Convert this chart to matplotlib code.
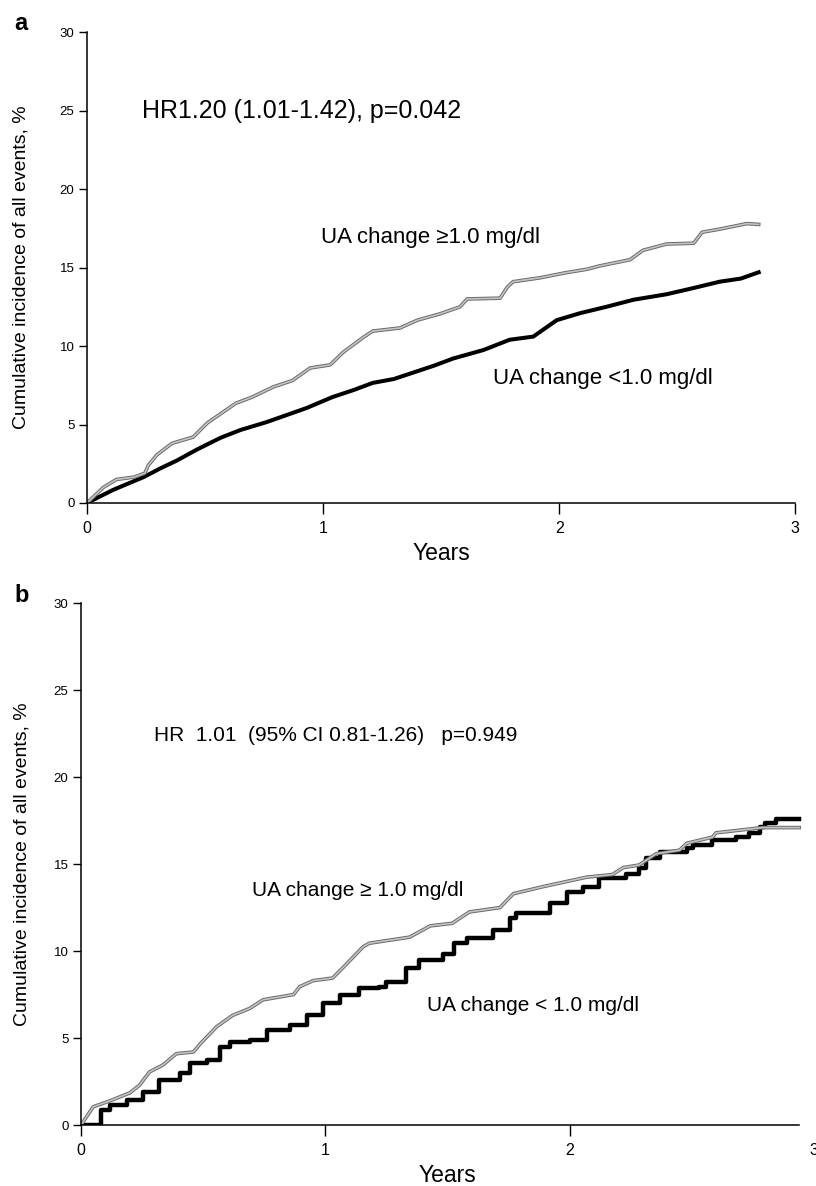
import matplotlib
matplotlib.use('Agg')
import matplotlib.pyplot as plt
import matplotlib.patheffects as pe

plt.rcParams['font.family'] = ['Liberation Sans', 'DejaVu Sans']

# panel a: cumulative incidence (%) vs years
a_hi_t = [0, 0.07, 0.125, 0.2, 0.245, 0.26, 0.295, 0.36, 0.45, 0.51, 0.63, 0.70, 0.79, 0.87,
          0.945, 1.03, 1.085, 1.17, 1.21, 1.325, 1.40, 1.495, 1.58, 1.61, 1.75, 1.78, 1.805,
          1.92, 2.02, 2.12, 2.17, 2.30, 2.355, 2.455, 2.57, 2.605, 2.68, 2.795, 2.845]
a_hi_v = [0, 1.0, 1.5, 1.65, 1.9, 2.4, 3.05, 3.8, 4.2, 5.1, 6.35, 6.75, 7.4, 7.8,
          8.6, 8.8, 9.6, 10.55, 10.95, 11.15, 11.65, 12.05, 12.5, 13.0, 13.05, 13.75, 14.1,
          14.35, 14.65, 14.9, 15.1, 15.5, 16.1, 16.5, 16.55, 17.25, 17.45, 17.8, 17.75]
a_lo_t = [0, 0.11, 0.24, 0.31, 0.38, 0.465, 0.565, 0.65, 0.76, 0.845, 0.93, 1.04, 1.13, 1.21,
          1.30, 1.38, 1.47, 1.55, 1.68, 1.79, 1.89, 1.99, 2.09, 2.20, 2.315, 2.455, 2.57,
          2.68, 2.77, 2.845]
a_lo_v = [0, 0.83, 1.65, 2.2, 2.7, 3.4, 4.15, 4.65, 5.15, 5.6, 6.05, 6.75, 7.2, 7.65,
          7.9, 8.3, 8.75, 9.2, 9.75, 10.4, 10.6, 11.65, 12.1, 12.5, 12.95, 13.3, 13.7,
          14.1, 14.3, 14.7]

# panel b
b_hi_t = [0, 0.05, 0.12, 0.20, 0.24, 0.28, 0.335, 0.39, 0.46, 0.49, 0.555, 0.62, 0.69, 0.745,
          0.87, 0.895, 0.95, 1.03, 1.09, 1.155, 1.18, 1.25, 1.345, 1.43, 1.52, 1.59, 1.715,
          1.77, 1.89, 2.07, 2.175, 2.22, 2.285, 2.355, 2.45, 2.48, 2.585, 2.60, 2.695, 2.79, 2.94]
b_hi_v = [0, 1.05, 1.4, 1.85, 2.3, 3.05, 3.45, 4.1, 4.2, 4.7, 5.65, 6.3, 6.7, 7.2,
          7.5, 7.95, 8.3, 8.45, 9.3, 10.25, 10.45, 10.6, 10.8, 11.45, 11.6, 12.25, 12.5,
          13.3, 13.7, 14.25, 14.4, 14.8, 14.95, 15.6, 15.8, 16.2, 16.55, 16.8, 16.95, 17.1, 17.1]
b_lo_t = [0, 0.065, 0.08, 0.12, 0.19, 0.255, 0.32, 0.405, 0.445, 0.515, 0.57, 0.61, 0.69, 0.76,
          0.855, 0.925, 0.99, 1.06, 1.14, 1.22, 1.25, 1.31, 1.33, 1.385, 1.48, 1.525, 1.58,
          1.685, 1.755, 1.78, 1.89, 1.92, 1.99, 2.055, 2.12, 2.23, 2.285, 2.315, 2.37, 2.48,
          2.505, 2.56, 2.585, 2.68, 2.735, 2.78, 2.80, 2.845, 2.94]
b_lo_v = [0, 0, 0.85, 1.15, 1.45, 1.9, 2.6, 3.0, 3.55, 3.75, 4.5, 4.75, 4.9, 5.45,
          5.75, 6.3, 7.0, 7.45, 7.85, 7.95, 8.2, 8.2, 9.0, 9.5, 9.85, 10.45, 10.75,
          11.2, 11.9, 12.2, 12.2, 12.75, 13.4, 13.7, 14.2, 14.45, 14.75, 15.35, 15.7, 15.9,
          16.1, 16.1, 16.4, 16.55, 16.8, 17.15, 17.35, 17.6, 17.6]

yticks = [0, 5, 10, 15, 20, 25, 30]
xticks = [0, 1, 2, 3]
ylabel = 'Cumulative incidence of all events, %'

gray_fx = [pe.Stroke(linewidth=2.6, foreground='#6a6a6a'), pe.Normal()]

fig = plt.figure(figsize=(8.16, 11.86), dpi=100)
ax1 = fig.add_axes([0.1066, 0.5759, 0.868, 0.397])
ax2 = fig.add_axes([0.0993, 0.0514, 0.898, 0.440])

for ax in (ax1, ax2):
    ax.spines['top'].set_visible(False)
    ax.spines['right'].set_visible(False)
    ax.spines['left'].set_linewidth(1.1)
    ax.spines['bottom'].set_linewidth(1.1)
    ax.set_ylim(0, 30)
    ax.set_xlim(0, 3)
    ax.set_yticks(yticks)
    ax.set_xticks(xticks)
    ax.tick_params(axis='y', direction='out', length=6, width=1, labelsize=9.5, pad=3)
    ax.tick_params(axis='x', direction='out', length=8, width=1, labelsize=11.5, pad=5)
    ax.set_ylabel(ylabel, fontsize=14)
    ax.set_xlabel('Years', fontsize=16.5, labelpad=4)

ax1.yaxis.set_label_coords(-0.081, 0.5)
ax2.yaxis.set_label_coords(-0.069, 0.5)

# panel a
ax1.plot(a_lo_t, a_lo_v, color='black', lw=2.9, solid_joinstyle='miter')
ax1.plot(a_hi_t, a_hi_v, color='#c4c4c4', lw=1.2, path_effects=gray_fx)
ax1.text(0.233, 25, 'HR1.20 (1.01-1.42), p=0.042', fontsize=18, va='center')
ax1.text(0.99, 16.9, 'UA change \u22651.0 mg/dl', fontsize=16, va='center')
ax1.text(1.72, 7.95, 'UA change <1.0 mg/dl', fontsize=16, va='center')

# panel b
ax2.plot(b_lo_t, b_lo_v, color='black', lw=3.2, drawstyle='steps-post')
ax2.plot(b_hi_t, b_hi_v, color='#c4c4c4', lw=1.2, path_effects=gray_fx)
ax2.spines['bottom'].set_bounds(0, 2.94)
ax2.xaxis.get_major_ticks()[-1].tick1line.set_visible(False)
ax2.text(0.3, 22.4, 'HR  1.01  (95% CI 0.81-1.26)   p=0.949', fontsize=15, va='center')
ax2.text(0.70, 13.5, 'UA change \u2265 1.0 mg/dl', fontsize=15, va='center')
ax2.text(1.415, 6.9, 'UA change < 1.0 mg/dl', fontsize=15, va='center')

fig.text(0.018, 0.980, 'a', fontsize=17, fontweight='bold', va='center')
fig.text(0.018, 0.498, 'b', fontsize=17, fontweight='bold', va='center')

fig.savefig('out.png', dpi=100)
